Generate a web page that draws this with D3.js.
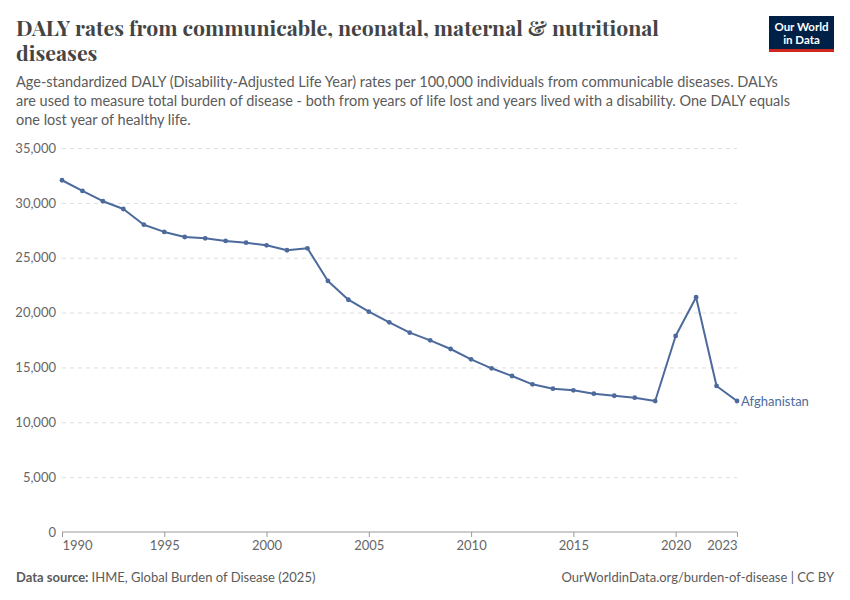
<!DOCTYPE html>
<html>
<head>
<meta charset="utf-8">
<script src="https://cdn.jsdelivr.net/npm/d3@7"></script>
<style>
  body { margin: 0; background: #fff; }
  svg text { font-family: Lato, "Noto Sans", sans-serif; }
</style>
</head>
<body>
<script>
// values (Afghanistan)
var years = [1990, 1991, 1992, 1993, 1994, 1995, 1996, 1997, 1998, 1999,
             2000, 2001, 2002, 2003, 2004, 2005, 2006, 2007, 2008, 2009,
             2010, 2011, 2012, 2013, 2014, 2015, 2016, 2017, 2018, 2019,
             2020, 2021, 2022, 2023];
var dalyRates = [32060, 31090, 30150, 29440, 28010, 27350, 26890, 26770, 26530, 26370,
                 26130, 25680, 25860, 22880, 21170, 20080, 19110, 18170, 17470, 16680,
                 15740, 14920, 14220, 13460, 13060, 12910, 12610, 12420, 12240, 11940,
                 17870, 21400, 13310, 11940];
var yTicks = [0, 5000, 10000, 15000, 20000, 25000, 30000, 35000];
var xTicks = [1990, 1995, 2000, 2005, 2010, 2015, 2020, 2023];
var entityName = "Afghanistan";

var W = 850, H = 600;
var lineColor = "#4c6a9c";

var svg = d3.select("body").append("svg")
  .attr("width", W)
  .attr("height", H);

// header
var title = svg.append("text")
  .attr("x", 16)
  .attr("y", 36)
  .style("font-family", "'Playfair Display', 'DejaVu Serif', Georgia, serif")
  .style("font-size", "21.3px")
  .style("font-weight", "bold")
  .style("fill", "#444");
title.append("tspan").attr("x", 16).text("DALY rates from communicable, neonatal, maternal & nutritional");
title.append("tspan").attr("x", 16).attr("dy", 25).text("diseases");

var subLines = [
  "Age-standardized DALY (Disability-Adjusted Life Year) rates per 100,000 individuals from communicable diseases. DALYs",
  "are used to measure total burden of disease - both from years of life lost and years lived with a disability. One DALY equals",
  "one lost year of healthy life."
];
svg.append("g").selectAll("text")
  .data(subLines)
  .enter().append("text")
  .attr("x", 16)
  .attr("y", function(d, i) { return 87 + i * 19; })
  .style("font-size", "14.5px")
  .style("fill", "#5b5b5b")
  .text(function(d) { return d; });

// logo
var logo = svg.append("g").attr("transform", "translate(769,16)");
logo.append("rect").attr("width", 65).attr("height", 36).attr("fill", "#002147");
logo.append("rect").attr("y", 33).attr("width", 65).attr("height", 3).attr("fill", "#ce261e");
logo.append("text").attr("x", 32.5).attr("y", 15).attr("text-anchor", "middle")
  .style("font-size", "11.5px").style("font-weight", "bold").style("fill", "#fff").text("Our World");
logo.append("text").attr("x", 32.5).attr("y", 28).attr("text-anchor", "middle")
  .style("font-size", "11.5px").style("font-weight", "bold").style("fill", "#fff").text("in Data");

// scales
var x = d3.scaleLinear().domain([1990, 2023]).range([62, 737]);
var y = d3.scaleLinear().domain([0, 35000]).range([532, 148]);

// gridlines + y labels
var yAxis = svg.append("g")
  .attr("transform", "translate(62,0)")
  .call(d3.axisLeft(y).tickValues(yTicks).tickSize(-675).tickFormat(d3.format(",")));
yAxis.select(".domain").remove();
yAxis.selectAll(".tick line")
  .attr("stroke", function(d) { return d === 0 ? "none" : "#ddd"; })
  .attr("stroke-dasharray", "4,4");
yAxis.selectAll(".tick text")
  .attr("x", -6)
  .style("font-size", "13px")
  .style("fill", "#666");

// x axis
var xAxis = svg.append("g")
  .attr("transform", "translate(0,532)")
  .call(d3.axisBottom(x).tickValues(xTicks).tickSize(5).tickFormat(d3.format("d")));
xAxis.select(".domain").attr("stroke", "#999").attr("d", "M62,0H737");
xAxis.selectAll(".tick line").attr("stroke", "#999");
xAxis.selectAll(".tick text")
  .attr("y", 9)
  .attr("text-anchor", function(d) {
    if (d === xTicks[0]) return "start";
    if (d === xTicks[xTicks.length - 1]) return "end";
    return "middle";
  })
  .style("font-size", "13px")
  .style("fill", "#666");

// line + markers
var pts = years.map(function(yr, i) { return { year: yr, value: dalyRates[i] }; });
var line = d3.line()
  .x(function(d) { return x(d.year); })
  .y(function(d) { return y(d.value); });

svg.append("path")
  .datum(pts)
  .attr("fill", "none")
  .attr("stroke", lineColor)
  .attr("stroke-width", 2)
  .attr("stroke-linejoin", "round")
  .attr("d", line);

svg.append("g").selectAll("circle")
  .data(pts)
  .enter().append("circle")
  .attr("cx", function(d) { return x(d.year); })
  .attr("cy", function(d) { return y(d.value); })
  .attr("r", 2.4)
  .attr("fill", lineColor);

var last = pts[pts.length - 1];
svg.append("text")
  .attr("x", x(last.year) + 4)
  .attr("y", y(last.value) + 5)
  .style("font-size", "13px")
  .style("fill", lineColor)
  .text(entityName);

// footer
var src = svg.append("text")
  .attr("x", 16)
  .attr("y", 582)
  .style("font-size", "13px")
  .style("fill", "#5b5b5b");
src.append("tspan").style("font-weight", "bold").text("Data source: ");
src.append("tspan").text("IHME, Global Burden of Disease (2025)");

svg.append("text")
  .attr("x", 834)
  .attr("y", 582)
  .attr("text-anchor", "end")
  .style("font-size", "13px")
  .style("fill", "#5b5b5b")
  .text("OurWorldinData.org/burden-of-disease | CC BY");
</script>
</body>
</html>
